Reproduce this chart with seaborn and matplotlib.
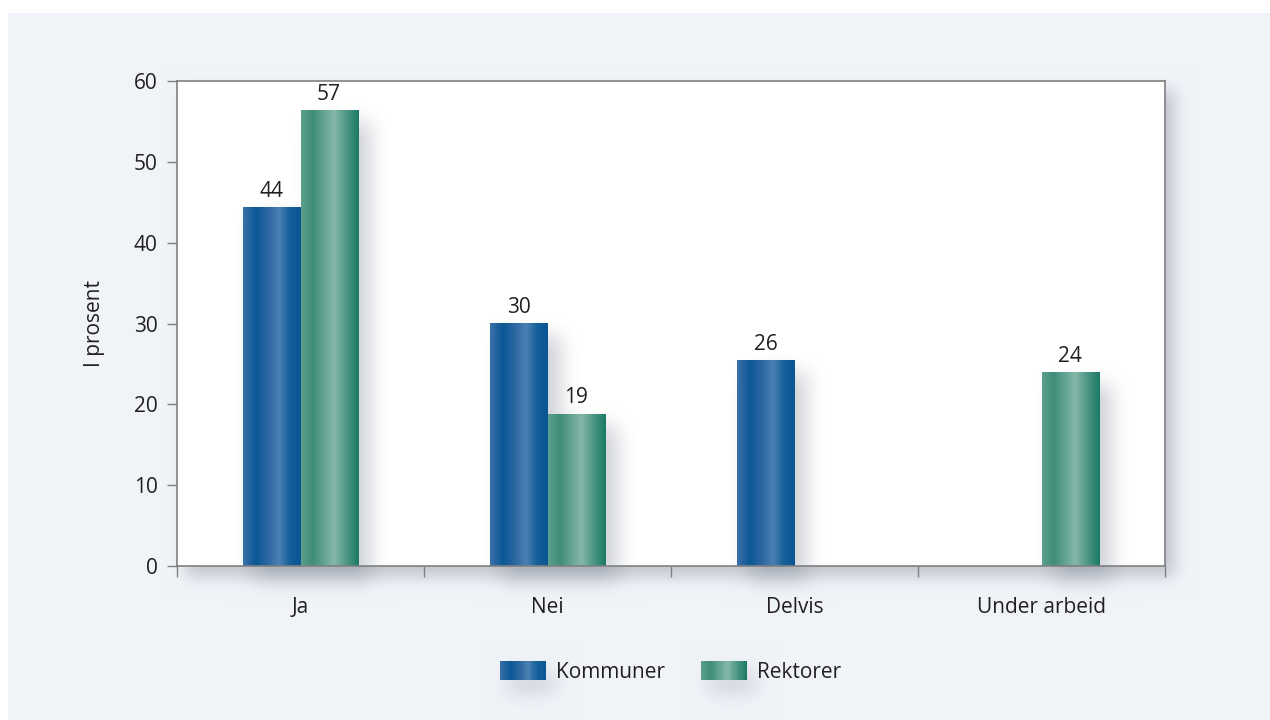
import numpy as np
import pandas as pd
import matplotlib
matplotlib.use("Agg")
import matplotlib.pyplot as plt
import seaborn as sns
from matplotlib.colors import LinearSegmentedColormap, to_rgb
from matplotlib.patches import Rectangle, Patch
from matplotlib.legend_handler import HandlerBase

# ---------------- data ----------------
categories = ["Ja", "Nei", "Delvis", "Under arbeid"]
groups = ["Kommuner", "Rektorer"]
kommuner = [44.4, 30.0, 25.4, np.nan]
rektorer = [56.3, 18.8, np.nan, 23.9]
kommuner_labels = ["44", "30", "26", ""]
rektorer_labels = ["57", "19", "", "24"]
yticks = [0, 10, 20, 30, 40, 50, 60]
ylabel = "I prosent"

# ---------------- style ----------------
sns.set_theme(style="white")
plt.rcParams["font.family"] = ["Open Sans", "DejaVu Sans"]
FS = 15
TXT = "#231f20"
SPINE = "#808080"
PANEL = "#f0f3f8"

grad_k = LinearSegmentedColormap.from_list(
    "gk", [(0.0, "#3a70a8"), (0.22, "#0a5896"), (0.45, "#2f68a3"),
           (0.62, "#4c80b3"), (0.82, "#14609b"), (1.0, "#0a5694")])
grad_r = LinearSegmentedColormap.from_list(
    "gr", [(0.0, "#5c9f8e"), (0.2, "#3f8c79"), (0.42, "#68a696"),
           (0.58, "#84b6a8"), (0.8, "#4b9683"), (1.0, "#1b7a65")])
grads = {"Kommuner": grad_k, "Rektorer": grad_r}
palette = {"Kommuner": "#0a5896", "Rektorer": "#3f8c79"}
labels_map = {"Kommuner": kommuner_labels, "Rektorer": rektorer_labels}

rows = []
for g, vals in zip(groups, [kommuner, rektorer]):
    for c, v in zip(categories, vals):
        if not np.isnan(v):
            rows.append({"svar": c, "gruppe": g, "prosent": v})
df = pd.DataFrame(rows)

W, H = 1270, 720
fig = plt.figure(figsize=(W / 100, H / 100), dpi=100, facecolor="white")
L, R, T, B = 177, 1165, 81, 566
ax = fig.add_axes([L / W, 1 - B / H, (R - L) / W, (B - T) / H])
ax.set_facecolor("white")

sns.barplot(data=df, x="svar", y="prosent", hue="gruppe", order=categories,
            hue_order=groups, palette=palette, width=0.462, saturation=1,
            dodge=True, ax=ax, legend=False, linewidth=0, errorbar=None)

ax.set_xlim(-0.5, len(categories) - 0.5)
ax.set_ylim(0, 60)

# gradient fills + value labels
bar_boxes = []
for cont, g in zip(ax.containers, groups):
    labs = []
    for p in cont:
        x0, w, h = p.get_x(), p.get_width(), p.get_height()
        if not np.isfinite(h) or h == 0:
            labs.append("")
            continue
        grad = grads[g](np.linspace(0, 1, 64))[np.newaxis, :, :3]
        ax.imshow(grad, extent=[x0, x0 + w, 0, h], aspect="auto",
                  interpolation="bilinear", zorder=1.5)
        idx = int(round(x0 + w / 2))
        labs.append(labels_map[g][idx])
        bar_boxes.append((x0, x0 + w, h))
        p.set_zorder(1.4)
    ax.bar_label(cont, labels=labs, padding=4, fontsize=FS, color=TXT, zorder=3)

ax.set_xlim(-0.5, len(categories) - 0.5)
ax.set_ylim(0, 60)

# axes, ticks
ax.set_yticks(yticks)
ax.set_yticklabels([str(t) for t in yticks])
ax.set_xticks(range(len(categories)))
ax.set_xticklabels(categories)
ax.set_xticks(np.arange(-0.5, len(categories), 1.0), minor=True)
ax.tick_params(axis="x", which="major", length=0, pad=22, labelsize=FS, labelcolor=TXT)
ax.tick_params(axis="x", which="minor", length=8, width=1, color=SPINE, direction="out", bottom=True)
ax.tick_params(axis="y", which="major", length=7, width=1, color=SPINE, pad=7,
               labelsize=FS, labelcolor=TXT, direction="out", left=True)
ax.set_xlabel("")
ax.set_ylabel(ylabel, fontsize=FS, color=TXT)
ax.yaxis.set_label_coords(-72 / (R - L), 0.5)
for s in ax.spines.values():
    s.set_visible(True)
    s.set_color(SPINE)
    s.set_linewidth(1.2)
    s.set_zorder(2.5)


# legend with gradient handles
class GradHandler(HandlerBase):
    def __init__(self, cmap):
        super().__init__()
        self.cmap = cmap

    def create_artists(self, legend, orig_handle, xdescent, ydescent, width,
                       height, fontsize, trans):
        outer = Rectangle((-xdescent, -ydescent), width, height, fill=False,
                          lw=0, transform=trans)
        arts = [outer]
        n = 40
        for i in range(n):
            arts.append(Rectangle((-xdescent + i * width / n, -ydescent),
                                  width / n * 1.08, height, lw=0,
                                  color=self.cmap(i / (n - 1)), transform=trans))
        return arts


handles = [Patch(label=g) for g in groups]
hmap = {h: GradHandler(grads[g]) for h, g in zip(handles, groups)}
leg = fig.legend(handles=handles, labels=groups, handler_map=hmap, loc="center",
                 bbox_to_anchor=(0.528, 1 - 672 / H), ncol=2, frameon=False,
                 fontsize=FS, handlelength=2.24, handleheight=1.05,
                 handletextpad=0.48, columnspacing=1.7)
for t in leg.get_texts():
    t.set_color(TXT)

fig.canvas.draw()


# ---------------- shadows / background ----------------
def box1d(a, r, axis):
    pad = [(0, 0), (0, 0)]
    pad[axis] = (r + 1, r)
    p = np.pad(a, pad, mode="edge")
    c = np.cumsum(p, axis=axis)
    if axis == 0:
        return (c[2 * r + 1:] - c[:-2 * r - 1]) / (2 * r + 1)
    return (c[:, 2 * r + 1:] - c[:, :-2 * r - 1]) / (2 * r + 1)


def blur(a, r):
    for _ in range(3):
        a = box1d(a, r, 0)
        a = box1d(a, r, 1)
    return a


def rect_mask(x0, x1, y0, y1):
    # display coords (origin bottom-left) -> image rows
    m = np.zeros((H, W))
    r0, r1 = int(round(H - y1)), int(round(H - y0))
    c0, c1 = int(round(x0)), int(round(x1))
    m[max(r0, 0):max(min(r1, H), 0), max(c0, 0):max(min(c1, W), 0)] = 1
    return m


bb = ax.get_window_extent()
ax_sh = blur(rect_mask(bb.x0 + 9, bb.x1 + 9, bb.y0 - 10, bb.y1 - 10), 7) * 0.42

bar_m = np.zeros((H, W))
for x0, x1, h in bar_boxes:
    (px0, py0), (px1, py1) = ax.transData.transform([(x0, 0), (x1, h)])
    bar_m = np.maximum(bar_m, rect_mask(px0 + 12, px1 + 12, py0 - 14, py1 - 12))
bar_sh = blur(bar_m, 9) * 0.38

leg_m = np.zeros((H, W))
for hdl in leg.legend_handles:
    e = hdl.get_window_extent()
    leg_m = np.maximum(leg_m, rect_mask(e.x0 + 8, e.x1 + 8, e.y0 - 12, e.y1 - 12))
leg_sh = blur(leg_m, 9) * 0.3

shadow_rgb = np.array(to_rgb("#7c8491"))
a_full = 1 - (1 - ax_sh) * (1 - bar_sh) * (1 - leg_sh)
base = np.ones((H, W, 3))
base[13:, 8:, :] = to_rgb(PANEL)
bg_img = base * (1 - a_full[..., None]) + shadow_rgb * a_full[..., None]

bg = fig.add_axes([0, 0, 1, 1], zorder=-1)
bg.imshow(bg_img, aspect="auto", interpolation="nearest", extent=[0, 1, 0, 1])
bg.set_xlim(0, 1)
bg.set_ylim(0, 1)
bg.axis("off")

# bar shadows inside the white plotting area
inner = np.zeros((H, W, 4))
inner[..., :3] = shadow_rgb
inner[..., 3] = bar_sh
ax.imshow(inner, extent=[0, 1, 0, 1], transform=fig.transFigure, aspect="auto",
          interpolation="nearest", zorder=0.5)
ax.set_xlim(-0.5, len(categories) - 0.5)
ax.set_ylim(0, 60)

fig.savefig("out.png", dpi=100, facecolor="white")
